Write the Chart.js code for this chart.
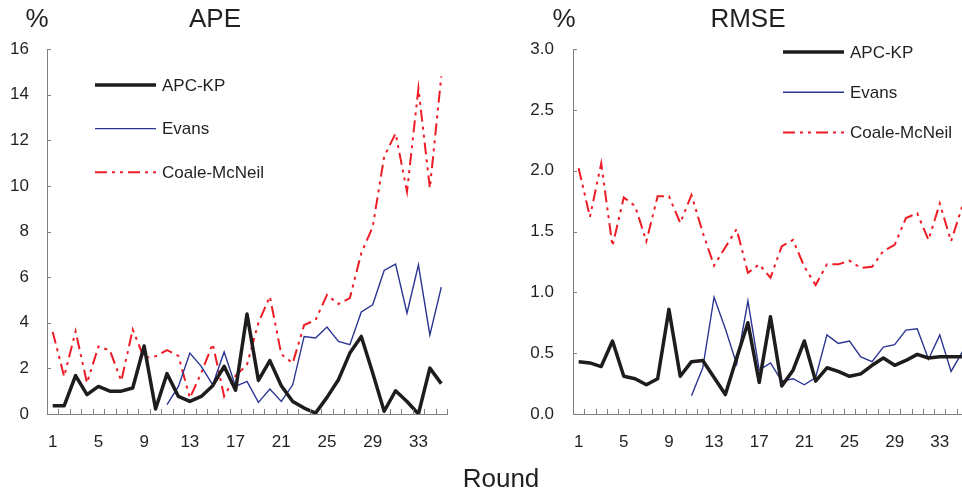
<!DOCTYPE html>
<html>
<head>
<meta charset="utf-8">
<script src="https://cdn.jsdelivr.net/npm/chart.js@4/dist/chart.umd.min.js"></script>
<style>
  body { margin: 0; width: 962px; height: 496px; overflow: hidden; background: #fff; position: relative;
         font-family: "Liberation Sans", Arial, sans-serif; color: #231f20; }
  canvas { position: absolute; top: 0; }
  .lbl { position: absolute; font-size: 26px; line-height: 26px; white-space: nowrap; transform: translateX(-50%); }
</style>
</head>
<body>
<canvas id="apeChart" width="481" height="496" style="left:0"></canvas>
<canvas id="rmseChart" width="500" height="496" style="left:481px"></canvas>
<div class="lbl" style="left:37px;top:5px">%</div>
<div class="lbl" style="left:215px;top:5px">APE</div>
<div class="lbl" style="left:564px;top:5px">%</div>
<div class="lbl" style="left:748px;top:5px">RMSE</div>
<div class="lbl" style="left:501px;top:465px">Round</div>
<script>
// Data
const rounds = [1, 2, 3, 4, 5, 6, 7, 8, 9, 10, 11, 12, 13, 14, 15, 16, 17, 18, 19, 20,
  21, 22, 23, 24, 25, 26, 27, 28, 29, 30, 31, 32, 33, 34, 35];
const seriesNames = ["APC-KP", "Evans", "Coale-McNeil"];

const apeApcKp = [0.36, 0.36, 1.68, 0.85, 1.21, 1.0, 1.0, 1.14, 2.98, 0.22, 1.77, 0.77, 0.55, 0.77, 1.24, 2.09, 1.04, 4.38,
  1.47, 2.34, 1.24, 0.55, 0.26, 0.04, 0.73, 1.5, 2.67, 3.4, 1.8, 0.12, 1.02, 0.55, 0, 2.01, 1.33];
const apeEvans = [null, null, null, null, null, null, null, null, null, null, 0.41, 1.21, 2.67, 2.09, 1.28, 2.72, 1.21,
  1.43, 0.51, 1.09, 0.55, 1.28, 3.4, 3.33, 3.81, 3.18, 3.04, 4.47, 4.79, 6.29, 6.57, 4.42, 6.54, 3.47, 5.56];
const apeCoale = [3.6, 1.64, 3.62, 1.36, 2.96, 2.79, 1.45, 3.7, 2.45, 2.53, 2.8, 2.55, 0.7, 1.8, 3.08, 0.77, 1.68, 2.16,
  4.0, 5.15, 2.62, 2.23, 3.9, 4.12, 5.22, 4.82, 5.08, 7.05, 8.2, 11.28, 12.3, 9.75, 14.28, 9.9, 14.8];

const rmseApcKp = [0.43, 0.42, 0.39, 0.6, 0.31, 0.29, 0.24, 0.29, 0.86, 0.31, 0.43, 0.44, 0.3, 0.16, 0.46, 0.75, 0.26,
  0.8, 0.23, 0.36, 0.6, 0.27, 0.38, 0.35, 0.31, 0.33, 0.4, 0.46, 0.4, 0.44, 0.49, 0.46, 0.47, 0.47, 0.47];
const rmseEvans = [null, null, null, null, null, null, null, null, null, null, 0.15, 0.38, 0.96, 0.7, 0.41, 0.93, 0.36,
  0.42, 0.27, 0.29, 0.24, 0.3, 0.65, 0.58, 0.6, 0.47, 0.43, 0.55, 0.57, 0.69, 0.7, 0.45, 0.65, 0.35, 0.51];
const rmseCoale = [2.02, 1.62, 2.06, 1.38, 1.78, 1.71, 1.42, 1.79, 1.79, 1.57, 1.8, 1.49, 1.22, 1.37, 1.52, 1.16, 1.23,
  1.12, 1.38, 1.43, 1.21, 1.06, 1.23, 1.23, 1.26, 1.2, 1.21, 1.34, 1.39, 1.61, 1.65, 1.43, 1.73, 1.42, 1.71];

// Styles
const axisColor = "#808080";
const textColor = "#231f20";
const fontFamily = '"Liberation Sans", Arial, sans-serif';

function makeDatasets(apc, evans, coale) {
  return [
    { label: seriesNames[0], data: apc, borderColor: "#1e1c1c", borderWidth: 3.5, borderJoinStyle: "round" },
    { label: seriesNames[1], data: evans, borderColor: "#2b3592", borderWidth: 1.4 },
    { label: seriesNames[2], data: coale, borderColor: "#ee1c25", borderWidth: 2, borderDash: [12, 5, 3, 5, 3, 5] },
  ];
}

// tick marks pointing into the plot, x ticks between categories
const inwardTicks = {
  id: "inwardTicks",
  afterDraw(chart) {
    const { ctx, scales: { x, y } } = chart;
    const step = x.getPixelForValue(1) - x.getPixelForValue(0);
    const start = x.getPixelForValue(0) - step / 2;
    ctx.save();
    ctx.strokeStyle = axisColor;
    ctx.lineWidth = 1;
    ctx.beginPath();
    for (let i = 1; i <= rounds.length; i++) {
      const px = Math.round(start + i * step) + 0.5;
      ctx.moveTo(px, y.bottom);
      ctx.lineTo(px, y.bottom - 5);
    }
    y.ticks.forEach((t) => {
      const py = Math.round(y.getPixelForValue(t.value)) + 0.5;
      ctx.moveTo(x.left, py);
      ctx.lineTo(x.left + 4, py);
    });
    ctx.stroke();
    ctx.restore();
  },
};

// legend drawn at a fixed spot inside the plot
const lineLegend = {
  id: "lineLegend",
  afterDraw(chart, args, opts) {
    const ctx = chart.ctx;
    chart.data.datasets.forEach((ds, i) => {
      const yy = opts.y + i * opts.gap;
      ctx.save();
      ctx.strokeStyle = ds.borderColor;
      ctx.lineWidth = ds.borderWidth;
      ctx.setLineDash(ds.borderDash || []);
      ctx.beginPath();
      ctx.moveTo(opts.x, yy);
      ctx.lineTo(opts.x + opts.len, yy);
      ctx.stroke();
      ctx.setLineDash([]);
      ctx.fillStyle = textColor;
      ctx.font = "17px " + fontFamily;
      ctx.textBaseline = "middle";
      ctx.fillText(ds.label, opts.x + opts.len + 6, yy + 1);
      ctx.restore();
    });
  },
};

function makeChart(id, datasets, cfg) {
  return new Chart(document.getElementById(id), {
    type: "line",
    data: { labels: rounds, datasets: datasets },
    options: {
      responsive: false,
      animation: false,
      layout: { padding: { top: 49, right: cfg.padRight, bottom: 0, left: 0 } },
      elements: { point: { radius: 0 }, line: { tension: 0 } },
      plugins: {
        legend: { display: false },
        tooltip: { enabled: false },
        lineLegend: cfg.legend,
      },
      scales: {
        x: {
          offset: true,
          grid: { display: true, drawOnChartArea: false, drawTicks: false },
          border: { display: true, color: axisColor, width: 1 },
          afterFit: (s) => { s.height = 82; },
          ticks: {
            autoSkip: false,
            maxRotation: 0,
            padding: 18,
            color: textColor,
            font: { family: fontFamily, size: 17 },
            callback: function (value, index) { return index % 4 === 0 ? rounds[index] : ""; },
          },
        },
        y: {
          min: 0,
          max: cfg.yMax,
          grid: { display: true, drawOnChartArea: false, drawTicks: false },
          border: { display: true, color: axisColor, width: 1 },
          afterFit: (s) => { s.width = cfg.yWidth; },
          ticks: {
            stepSize: cfg.yStep,
            padding: cfg.yPad,
            color: textColor,
            font: { family: fontFamily, size: 17 },
            callback: (v) => v.toFixed(cfg.digits),
          },
        },
      },
    },
    plugins: [inwardTicks, lineLegend],
  });
}

makeChart("apeChart", makeDatasets(apeApcKp, apeEvans, apeCoale), {
  yMax: 16, yStep: 2, digits: 0, yWidth: 47, yPad: 18, padRight: 34,
  legend: { x: 95, y: 85, gap: 43.6, len: 61 },
});

makeChart("rmseChart", makeDatasets(rmseApcKp, rmseEvans, rmseCoale), {
  yMax: 3, yStep: 0.5, digits: 1, yWidth: 92, yPad: 19, padRight: 13,
  legend: { x: 302, y: 52, gap: 40.2, len: 61 },
});
</script>
</body>
</html>
